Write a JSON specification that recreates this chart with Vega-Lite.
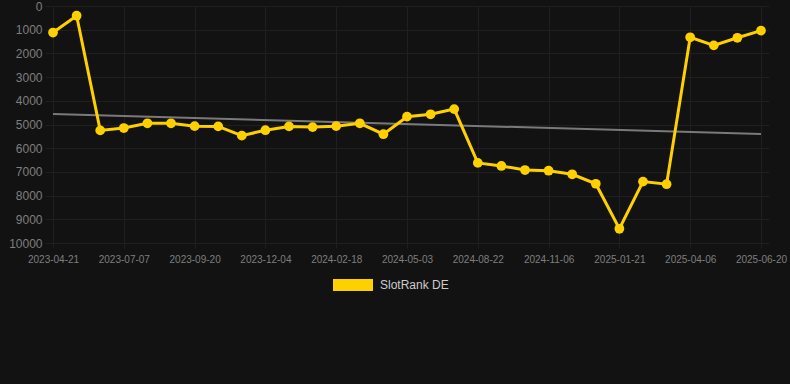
{
  "$schema": "https://vega.github.io/schema/vega-lite/v6.json",
  "width": 724,
  "height": 237,
  "autosize": {"type": "none"},
  "padding": {"left": 45, "top": 6, "right": 21, "bottom": 141},
  "background": "#121212",
  "config": {"view": {"stroke": null}, "font": "Liberation Sans"},
  "datasets": {
    "ranks": [
      {"date": "2023-04-21", "rank": 1120, "series": "SlotRank DE"},
      {"date": "2023-05-16", "rank": 410, "series": "SlotRank DE"},
      {"date": "2023-06-11", "rank": 5250, "series": "SlotRank DE"},
      {"date": "2023-07-07", "rank": 5150, "series": "SlotRank DE"},
      {"date": "2023-08-01", "rank": 4950, "series": "SlotRank DE"},
      {"date": "2023-08-26", "rank": 4950, "series": "SlotRank DE"},
      {"date": "2023-09-20", "rank": 5070, "series": "SlotRank DE"},
      {"date": "2023-10-15", "rank": 5080, "series": "SlotRank DE"},
      {"date": "2023-11-09", "rank": 5470, "series": "SlotRank DE"},
      {"date": "2023-12-04", "rank": 5240, "series": "SlotRank DE"},
      {"date": "2023-12-29", "rank": 5080, "series": "SlotRank DE"},
      {"date": "2024-01-23", "rank": 5110, "series": "SlotRank DE"},
      {"date": "2024-02-18", "rank": 5070, "series": "SlotRank DE"},
      {"date": "2024-03-14", "rank": 4950, "series": "SlotRank DE"},
      {"date": "2024-04-08", "rank": 5410, "series": "SlotRank DE"},
      {"date": "2024-05-03", "rank": 4670, "series": "SlotRank DE"},
      {"date": "2024-06-09", "rank": 4570, "series": "SlotRank DE"},
      {"date": "2024-07-16", "rank": 4350, "series": "SlotRank DE"},
      {"date": "2024-08-22", "rank": 6620, "series": "SlotRank DE"},
      {"date": "2024-09-16", "rank": 6750, "series": "SlotRank DE"},
      {"date": "2024-10-11", "rank": 6920, "series": "SlotRank DE"},
      {"date": "2024-11-06", "rank": 6950, "series": "SlotRank DE"},
      {"date": "2024-12-01", "rank": 7100, "series": "SlotRank DE"},
      {"date": "2024-12-26", "rank": 7500, "series": "SlotRank DE"},
      {"date": "2025-01-21", "rank": 9400, "series": "SlotRank DE"},
      {"date": "2025-02-15", "rank": 7410, "series": "SlotRank DE"},
      {"date": "2025-03-12", "rank": 7520, "series": "SlotRank DE"},
      {"date": "2025-04-06", "rank": 1320, "series": "SlotRank DE"},
      {"date": "2025-05-01", "rank": 1660, "series": "SlotRank DE"},
      {"date": "2025-05-26", "rank": 1340, "series": "SlotRank DE"},
      {"date": "2025-06-20", "rank": 1040, "series": "SlotRank DE"}
    ],
    "trend": [
      {"date": "2023-04-21", "rank": 4557},
      {"date": "2025-06-20", "rank": 5400}
    ]
  },
  "encoding": {
    "x": {
      "field": "date",
      "type": "ordinal",
      "scale": {"type": "point", "padding": 0.34},
      "axis": {
        "title": null,
        "values": ["2023-04-21", "2023-07-07", "2023-09-20", "2023-12-04", "2024-02-18", "2024-05-03", "2024-08-22", "2024-11-06", "2025-01-21", "2025-04-06", "2025-06-20"],
        "labelAngle": 0,
        "labelFontSize": 10,
        "labelColor": "#7f7f7f",
        "grid": true,
        "gridColor": "#1f1f1f",
        "tickColor": "#1f1f1f",
        "tickSize": 5,
        "labelPadding": 6,
        "domain": false
      }
    },
    "y": {
      "field": "rank",
      "type": "quantitative",
      "scale": {"domain": [0, 10000], "reverse": true, "nice": false},
      "axis": {
        "title": null,
        "format": "d",
        "values": [0, 1000, 2000, 3000, 4000, 5000, 6000, 7000, 8000, 9000, 10000],
        "labelFontSize": 12,
        "labelColor": "#7f7f7f",
        "grid": true,
        "gridColor": "#1f1f1f",
        "tickSize": 0,
        "labelPadding": 3,
        "domain": false
      }
    }
  },
  "layer": [
    {
      "data": {"name": "trend"},
      "mark": {"type": "line", "color": "#7a7a7a", "strokeWidth": 2}
    },
    {
      "data": {"name": "ranks"},
      "mark": {"type": "line", "color": "#FFD000", "strokeWidth": 3}
    },
    {
      "data": {"name": "ranks"},
      "mark": {"type": "point", "filled": true, "shape": "circle", "size": 95, "opacity": 1},
      "encoding": {
        "color": {
          "field": "series",
          "type": "nominal",
          "scale": {"domain": ["SlotRank DE"], "range": ["#FFD000"]},
          "legend": {
            "title": null,
            "orient": "none",
            "legendX": 287,
            "legendY": 258,
            "symbolType": "M-1,-0.3H1V0.3H-1Z",
            "symbolSize": 1600,
            "labelFontSize": 12,
            "labelColor": "#cccccc",
            "labelOffset": 6,
            "encode": {"symbols": {"update": {"size": {"value": 1600}, "shape": {"value": "M-1,-0.3H1V0.3H-1Z"}, "fill": {"value": "#FFD000"}, "opacity": {"value": 1}}}}
          }
        }
      }
    }
  ]
}
